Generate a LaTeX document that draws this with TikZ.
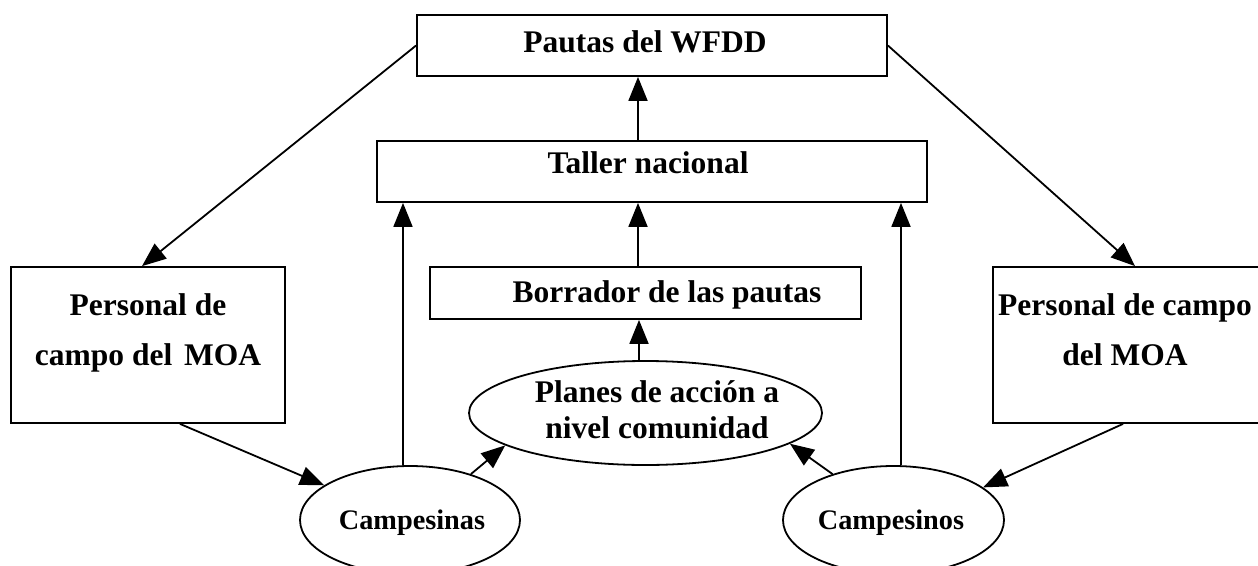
\documentclass[tikz,border=0pt]{standalone}
\usepackage{fontspec}
\setmainfont{Liberation Serif}
\usetikzlibrary{arrows.meta,shapes.geometric}
\begin{document}
\begin{tikzpicture}[x=1pt,y=-1pt,
 box/.style={draw, line width=1.8pt, inner sep=0pt, rectangle},
 ell/.style={draw, ellipse, line width=1.8pt, inner sep=0pt},
 lbl/.style={font=\fontsize{31.5}{36}\selectfont\bfseries, inner sep=0pt, anchor=base, align=center},
 small/.style={font=\fontsize{28.3}{34}\selectfont\bfseries, inner sep=0pt, anchor=base, align=center},
 arr/.style={line width=1.8pt, -{Triangle[length=24pt,width=19pt]}}]
\useasboundingbox (0,0) rectangle (1258,565);
% boxes
\node[box, minimum width=470pt, minimum height=61pt] (pautas) at (652,45.5) {};
\node[box, minimum width=550pt, minimum height=61pt] (taller) at (652,171.5) {};
\node[box, minimum width=431pt, minimum height=52pt] (borr) at (645.5,293) {};
\node[box, minimum width=274pt, minimum height=156pt] (pers1) at (148,345) {};
\node[box, minimum width=269pt, minimum height=156pt] (pers2) at (1127.5,345) {};
\node[ell, minimum width=353pt, minimum height=104pt] (planes) at (645.5,413) {};
\node[ell, minimum width=220pt, minimum height=108pt] (camp1) at (410,520) {};
\node[ell, minimum width=221pt, minimum height=108pt] (camp2) at (893.5,520) {};
% texts
\node[lbl] (t1) at (645,52) {Pautas del WFDD};
\node[lbl] (t2) at (648,173) {Taller nacional};
\node[lbl] (t3) at (667,302) {Borrador de las pautas};
\node[lbl] (t4) at (657,438) {Planes de acción a\\nivel comunidad};
\node[lbl, font=\fontsize{31.5}{50}\selectfont\bfseries] (t5) at (148,365) {Personal de\\campo del\hspace{4pt} MOA};
\node[lbl, font=\fontsize{31.5}{50}\selectfont\bfseries] (t6) at (1125,365) {Personal de campo\\del MOA};
\node[small] (t7) at (412,529) {Campesinas};
\node[small] (t8) at (891,529) {Campesinos};
% connectors
\draw[arr] (pautas.west) -- ([xshift=-6pt]pers1.north);
\draw[arr] (pautas.east) -- ([xshift=7.5pt]pers2.north);
\draw[arr] ([xshift=-14pt]taller.north) -- ([xshift=-14pt]pautas.south);
\draw[arr] ([xshift=-7.5pt]borr.north) -- ([xshift=-14pt]taller.south);
\draw[arr] ([xshift=-6.5pt]planes.north) -- ([xshift=-6.5pt]borr.south);
\draw[arr] ([xshift=-7pt]camp1.north) -- ([xshift=-249pt]taller.south);
\draw[arr] ([xshift=7.5pt]camp2.north) -- ([xshift=249pt]taller.south);
\draw[arr] ([xshift=32pt]pers1.south) -- (camp1.158);
\draw[arr] ([xshift=-4.5pt]pers2.south) -- (camp2.20);
\draw[arr] (camp1.37) -- (planes.193);
\draw[arr] (camp2.143) -- (planes.348);
\end{tikzpicture}
\end{document}
